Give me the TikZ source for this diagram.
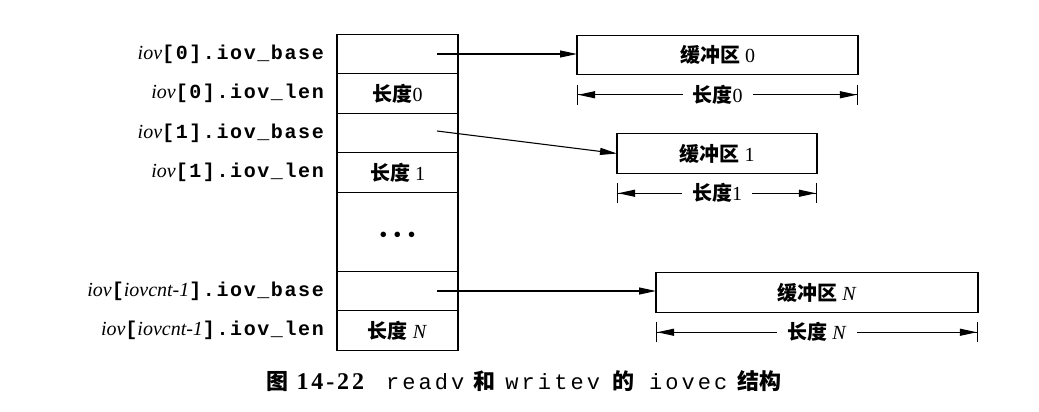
\documentclass[tikz,border=0pt]{standalone}
\usepackage{fontspec}
\usetikzlibrary{positioning,arrows.meta}
\setmainfont{Liberation Serif}
\newfontfamily\cjk{Noto Sans CJK SC}
\newfontfamily\lblmono[LetterSpace=8]{Liberation Mono}
\newfontfamily\capmono[LetterSpace=14]{Liberation Mono}
\newfontfamily\capnum[LetterSpace=12]{Liberation Serif}

\newcommand{\zh}[1]{{\cjk\bfseries #1}}
\newcommand{\mono}[1]{{\lblmono\bfseries #1}}
\newcommand{\pkt}{{\fontsize{23}{23}\selectfont\textbullet}}

\tikzset{
  cell/.style={draw, line width=1.2pt, minimum width=121pt, minimum height=39.5pt,
    inner sep=0pt, outer sep=0pt},
  buffer/.style={draw, line width=1.2pt, minimum height=39.5pt, inner sep=0pt, outer sep=0pt},
  feld/.style={inner sep=0pt},
  ptr/.style={line width=1.1pt, -{Triangle[length=17pt,width=7pt]}},
  mass/.style={line width=1.1pt,
    {Bar[width=20pt]Triangle[length=17pt,width=7pt]}-{Triangle[length=17pt,width=7pt]Bar[width=20pt]}},
  masstext/.style={midway, fill=white, inner xsep=10pt, inner ysep=0pt},
}

\begin{document}
\begin{tikzpicture}[x=1pt, y=-1pt, font=\fontsize{20}{24}\selectfont]

\useasboundingbox (0,0) rectangle (1039,412);

% Spalte mit den iovec-Eintraegen
\node[cell] (cb0) at (397.5,54) {};
\node[cell, below=0pt of cb0] (cl0) {\zh{长度}0};
\node[cell, below=0pt of cl0] (cb1) {};
\node[cell, below=0pt of cb1] (cl1) {\zh{长度} 1};
\node[cell, below=0pt of cl1, minimum height=79pt] (cdots)
  {\raisebox{-11pt}[0pt][0pt]{\pkt\hspace{6pt}\pkt\hspace{6pt}\pkt}};
\node[cell, below=0pt of cdots] (cbN) {};
\node[cell, below=0pt of cbN] (clN) {\zh{长度} \textit{N}};

% Feldnamen links neben der Spalte
\node[feld, left=13pt of cb0] (lb0) {\textit{iov}\mono{[0].iov\_base}};
\node[feld, left=13pt of cl0] (ll0) {\textit{iov}\mono{[0].iov\_len}};
\node[feld, left=13pt of cb1] (lb1) {\textit{iov}\mono{[1].iov\_base}};
\node[feld, left=13pt of cl1] (ll1) {\textit{iov}\mono{[1].iov\_len}};
\node[feld, left=13pt of cbN] (lbN) {\textit{iov}\mono{[}\textit{iovcnt-1}\mono{].iov\_base}};
\node[feld, left=13pt of clN] (llN) {\textit{iov}\mono{[}\textit{iovcnt-1}\mono{].iov\_len}};

% Puffer rechts
\node[buffer, minimum width=281pt] (buf0) at (717.5,55) {\zh{缓冲区} 0};
\node[buffer, minimum width=200pt] (buf1) at (717,153.5) {\zh{缓冲区} 1};
\node[buffer, minimum width=322pt] (bufN) at (817,292.5) {\zh{缓冲区} \textit{N}};

% Zeiger von iov_base auf den Puffer
\coordinate (p0) at ([xshift=-21pt]cb0.east);
\coordinate (p1) at ([xshift=-21pt,yshift=2pt]cb1.east);
\coordinate (pN) at ([xshift=-21pt]cbN.east);
\draw[ptr] (p0) -- (p0 -| buf0.west);
\draw[ptr] (p1) -- (buf1.west);
\draw[ptr] (pN) -- (pN -| bufN.west);

% Laengenangaben unter den Puffern
\coordinate (m0a) at ([yshift=-20pt]buf0.south west);
\coordinate (m0b) at ([yshift=-20pt]buf0.south east);
\coordinate (m1a) at ([yshift=-20pt]buf1.south west);
\coordinate (m1b) at ([yshift=-20pt]buf1.south east);
\coordinate (mNa) at ([yshift=-20pt]bufN.south west);
\coordinate (mNb) at ([yshift=-20pt]bufN.south east);
\draw[mass] (m0a) -- (m0b) node[masstext] {\zh{长度}0};
\draw[mass] (m1a) -- (m1b) node[masstext] {\zh{长度}1};
\draw[mass] (mNa) -- (mNb) node[masstext] {\zh{长度} \textit{N}};

% Bildunterschrift
\node (cap) at (524,381) {\fontsize{22}{24}\selectfont
  \zh{图}\hspace{8pt}{\capnum\fontsize{24}{24}\selectfont\bfseries 14-22}\hspace{22pt}%
  {\capmono readv}\hspace{9pt}\zh{和}\hspace{10pt}{\capmono writev}\hspace{12pt}\zh{的}%
  \hspace{15pt}{\capmono iovec}\hspace{10pt}\zh{结构}};

\end{tikzpicture}
\end{document}
